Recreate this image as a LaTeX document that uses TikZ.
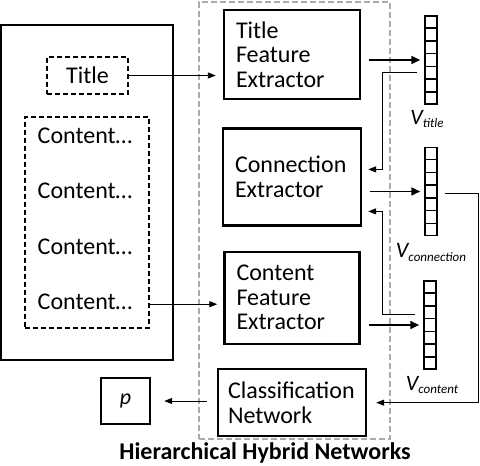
\documentclass[tikz,border=0pt]{standalone}
\usepackage{fontspec}
\setmainfont{Carlito}
\usetikzlibrary{positioning,calc,arrows.meta}
\definecolor{framegray}{RGB}{170,170,170}

\tikzset{
  txt/.style={font=\fontsize{24}{24.5}\selectfont},
  blk/.style={txt, draw, line width=2.4pt, align=left, inner xsep=12pt, inner ysep=0pt},
  dbox/.style={draw, line width=1.8pt, dash pattern=on 5pt off 3pt},
  cline/.style={txt, inner sep=0pt, text height=16pt, text depth=5pt},
  vecbox/.style={draw, line width=1.5pt, minimum width=12pt, minimum height=88pt, inner sep=0pt},
  vlabel/.style={font=\fontsize{22}{24}\selectfont\itshape, inner sep=0pt},
  thk/.style={line width=1.6pt, -{Triangle[length=9pt,width=8pt]}},
  thn/.style={line width=0.9pt, -{Triangle[length=8pt,width=6pt]}},
}

\newcommand{\vsub}[1]{V\raisebox{-0.35ex}{\fontsize{13}{14}\selectfont #1}}

\begin{document}
\begin{tikzpicture}[x=1pt,y=1pt]
  \useasboundingbox (0,0) rectangle (480,466);

  % input document
  \node[draw, line width=2.6pt, minimum width=172pt, minimum height=335pt] (doc) at (87,273.5) {};
  \node[dbox, txt, minimum width=81pt, minimum height=37pt, inner sep=0pt] (ttl) at (87.5,390.5) {Title};
  \node[dbox, minimum width=124pt, minimum height=211pt] (cnt) at (87,243.5) {};
  \node[cline] (c1) at (85,328) {Content…};
  \node[cline, below=34pt of c1] (c2) {Content…};
  \node[cline, below=34pt of c2] (c3) {Content…};
  \node[cline, below=34pt of c3] (c4) {Content…};
  \node[draw, line width=2.4pt, minimum width=49pt, minimum height=46pt,
        font=\fontsize{22}{24}\selectfont\itshape] (p) at (125.5,65) {p};

  % hybrid networks
  \node[draw=framegray, line width=1.8pt, dash pattern=on 6pt off 3pt,
        minimum width=191pt, minimum height=437pt] (hhn) at (294.5,245.5) {};
  \node[font=\bfseries\fontsize{24}{26}\selectfont, inner sep=0pt, anchor=base] (cap) at (265,6) {Hierarchical Hybrid Networks};

  \node[blk, text width=112pt, minimum height=89pt] (tfe) at (292,411.5) {Title\\Feature\\Extractor};
  \node[blk, text width=114pt, minimum height=97pt, below=27pt of tfe] (con) {Connection\\Extractor};
  \node[blk, text width=111pt, minimum height=92pt, below=24pt of con] (cfe) {Content\\Feature\\Extractor};
  \node[blk, inner xsep=10pt, text width=128pt, minimum height=67pt, below=23pt of cfe] (cls) {Classification\\Network};

  % vectors
  \node[vecbox] (vt) at (431,406) {};
  \node[vecbox, below=42pt of vt] (vc) {};
  \node[vecbox, below=44pt of vc, xshift=-1pt] (vn) {};
  \foreach \v in {vt,vc,vn}{
    \foreach \k in {1,...,6}{
      \draw[line width=1.5pt] ($(\v.south west)!\k/7!(\v.north west)$) -- ($(\v.south east)!\k/7!(\v.north east)$);
    }
  }
  \node[vlabel, below=5pt of vt, xshift=-4pt] (lt) {\vsub{title}};
  \node[vlabel, below=7pt of vc] (lc) {\vsub{connection}};
  \node[vlabel, below=6pt of vn, xshift=2pt] (ln) {\vsub{content}};

  \coordinate (k1) at ($(con.east)+(20,7.5)$);
  \coordinate (k2) at ($(con.east)+(20,-34.5)$);
  \coordinate (k3) at (478,0);

  \draw[thn, shorten >=7pt] (ttl.east) -- (ttl.east -| tfe.west);
  \draw[thn, shorten >=6pt] (c4.east -| cnt.east) -- (c4.east -| cfe.west);
  \draw[thk, shorten <=8pt, shorten >=4pt] (tfe.east |- vt.west) -- (vt.west);
  \draw[thk, shorten <=8pt, shorten >=4pt] (con.east |- vc.west) -- (vc.west);
  \draw[thk, shorten <=8pt, shorten >=4pt] (cfe.east |- vn.west) -- (vn.west);
  \draw[thn] ($(vt.west)+(-7,-12)$) -| (k1) -- ($(con.east)+(6,7.5)$);
  \draw[thn] ($(vn.west)+(-8,10.5)$) -| (k2) -- ($(con.east)+(6,-34.5)$);
  \draw[thn, shorten >=9pt] ($(vc.east)+(7,-2)$) -| (k3 |- cls.east) -- (cls.east);
  \draw[thn, shorten <=10pt, shorten >=13pt] (cls.west |- p.east) -- (p.east);
\end{tikzpicture}
\end{document}
